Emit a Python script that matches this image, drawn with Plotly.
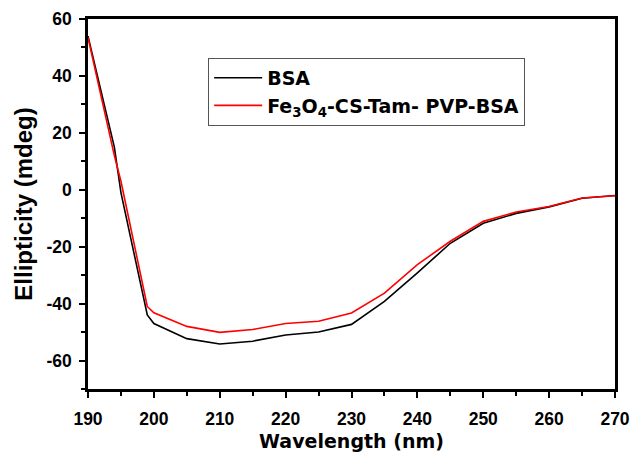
import plotly.graph_objects as go

wl_bsa = [190, 194, 195, 199, 200, 205, 210, 215, 220, 225, 230, 235, 240, 245, 250, 255, 260, 265, 270]
bsa = [54, 15, -1, -44, -47, -52.3, -54.2, -53.2, -51, -50, -47.3, -39.2, -29.2, -18.8, -11.8, -8.3, -6, -3, -2]

wl_fe = [190, 194, 195, 199, 200, 205, 210, 215, 220, 225, 230, 235, 240, 245, 250, 255, 260, 265, 270]
fe = [53.5, 12, 3, -41, -43.2, -48, -50.1, -49.1, -47, -46.2, -43.3, -36.3, -26.3, -18.1, -11.1, -7.8, -5.9, -2.9, -2.1]

x_ticks = [190, 200, 210, 220, 230, 240, 250, 260, 270]
y_ticks = [-60, -40, -20, 0, 20, 40, 60]

names = ["<b>BSA</b>", "<b>Fe<sub>3</sub>O<sub>4</sub>-CS-Tam- PVP-BSA</b>"]
colors = ["#000000", "#ff0000"]

fig = go.Figure()
fig.add_trace(go.Scatter(x=wl_bsa, y=bsa, mode="lines", name=names[0],
                         line=dict(color=colors[0], width=1.6)))
fig.add_trace(go.Scatter(x=wl_fe, y=fe, mode="lines", name=names[1],
                         line=dict(color=colors[1], width=1.6)))

font_fam = "Liberation Sans, Arial, sans-serif"
wide_fam = "DejaVu Sans, sans-serif"
fig.update_layout(
    width=633, height=452,
    margin=dict(l=88, r=18, t=19, b=63, autoexpand=False),
    plot_bgcolor="white", paper_bgcolor="white",
    showlegend=True,
    legend=dict(x=0.228, y=0.895, xanchor="left", yanchor="top",
                bordercolor="#555555", borderwidth=1, bgcolor="white",
                font=dict(family=wide_fam, size=19, color="black"),
                tracegroupgap=0, itemwidth=48),
    font=dict(family=font_fam, color="black"),
)
fig.update_xaxes(
    range=[190, 270], tickvals=x_ticks, ticktext=[f"<b>{v}</b>" for v in x_ticks],
    ticks="outside", ticklen=6, tickwidth=2, tickcolor="black",
    minor=dict(dtick=5, tick0=190, ticks="outside", ticklen=4, tickwidth=2, tickcolor="black"),
    showline=True, linewidth=2.5, linecolor="black", mirror=True,
    showgrid=False, zeroline=False, automargin=False, ticklabelstandoff=6,
    tickfont=dict(family=font_fam, size=17.5, color="black"),
    title=dict(text="<b>Wavelength (nm)</b>", font=dict(family=wide_fam, size=19, color="black"), standoff=15),
)
fig.update_yaxes(
    range=[-70, 60], tickvals=y_ticks, ticktext=[f"<b>{v}</b>" for v in y_ticks],
    ticks="outside", ticklen=6, tickwidth=2, tickcolor="black",
    minor=dict(dtick=10, tick0=-70, ticks="outside", ticklen=4, tickwidth=2, tickcolor="black"),
    showline=True, linewidth=2.5, linecolor="black", mirror=True,
    showgrid=False, zeroline=False, automargin=False, ticklabelstandoff=4,
    tickfont=dict(family=font_fam, size=17.5, color="black"),
    title=dict(text="<b>Ellipticity (mdeg)</b>", font=dict(family=font_fam, size=24, color="black"), standoff=8),
)

fig.write_html("out.html")
